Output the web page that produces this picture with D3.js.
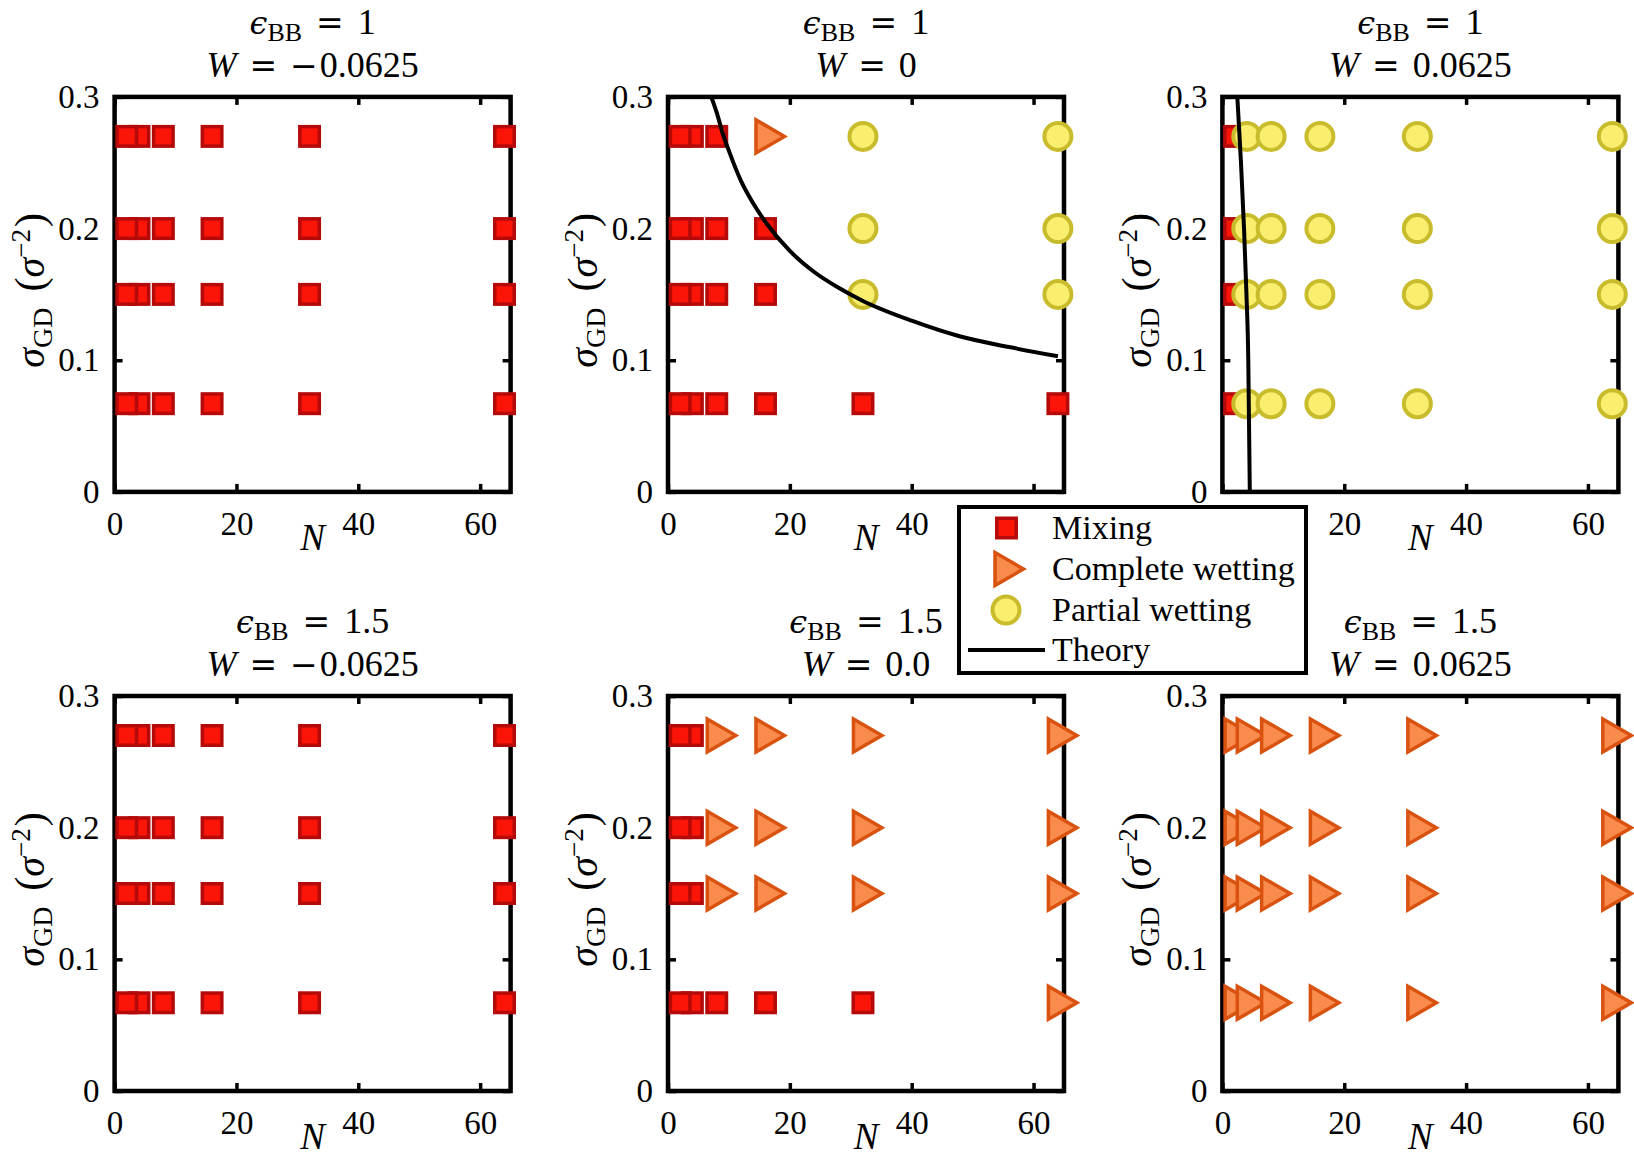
<!DOCTYPE html>
<html><head><meta charset="utf-8">
<script src="https://cdn.jsdelivr.net/npm/d3@7"></script>
<style>body{margin:0;background:#fff}</style>
</head><body>
<svg id="c" width="1634" height="1156"></svg>
<script>
// ---------- data ----------
const N_values = [2, 4, 8, 16, 32, 64];
const sigma_values = [0.27, 0.2, 0.15, 0.067];   // rows of the phase tables (top to bottom)
const x_ticks = [0, 20, 40, 60];
const y_ticks = [0, 0.1, 0.2, 0.3];
const y_tick_labels = ["0", "0.1", "0.2", "0.3"];
const eps_labels = ["1", "1", "1", "1.5", "1.5", "1.5"];
const W_labels = ["\u22120.0625", "0", "0.0625", "\u22120.0625", "0.0", "0.0625"];
const legend_labels = ["Mixing", "Complete wetting", "Partial wetting", "Theory"];
// phase tables: M = mixing, C = complete wetting, P = partial wetting
const phase_e1_Wneg = [
  ["M","M","M","M","M","M"],
  ["M","M","M","M","M","M"],
  ["M","M","M","M","M","M"],
  ["M","M","M","M","M","M"]];
const phase_e1_W0 = [
  ["M","M","M","C","P","P"],
  ["M","M","M","M","P","P"],
  ["M","M","M","M","P","P"],
  ["M","M","M","M","M","M"]];
const phase_e1_Wpos = [
  ["M","P","P","P","P","P"],
  ["M","P","P","P","P","P"],
  ["M","P","P","P","P","P"],
  ["M","P","P","P","P","P"]];
const phase_e15_Wneg = [
  ["M","M","M","M","M","M"],
  ["M","M","M","M","M","M"],
  ["M","M","M","M","M","M"],
  ["M","M","M","M","M","M"]];
const phase_e15_W0 = [
  ["M","M","C","C","C","C"],
  ["M","M","C","C","C","C"],
  ["M","M","C","C","C","C"],
  ["M","M","M","M","M","C"]];
const phase_e15_Wpos = [
  ["C","C","C","C","C","C"],
  ["C","C","C","C","C","C"],
  ["C","C","C","C","C","C"],
  ["C","C","C","C","C","C"]];
// theory curves
const theory_N_W0 = [7.1, 8, 9, 10, 12, 14, 16, 20, 24, 28, 32, 40, 48, 56, 64];
const theory_sigma_W0 = [0.300, 0.288, 0.272, 0.259, 0.236, 0.219, 0.205, 0.183, 0.167, 0.155, 0.145, 0.130, 0.118, 0.110, 0.103];
const theory_N_Wpos = [2.45, 3.05, 3.55, 3.95, 4.25, 4.5];
const theory_sigma_Wpos = [0.3, 0.25, 0.2, 0.15, 0.1, 0.0];

// ---------- layout / style ----------
const panelLeft = [114.6, 668, 1222.4];
const panelTop = [96.9, 696];
const pw = 396, ph = 395;
const SERIF = "'Liberation Serif', 'Times New Roman', serif";
const OPF = "'DejaVu Serif', serif";
const col = {
  sqFill: "#fb1408", sqStroke: "#b50a0a",
  triFill: "#f98b4d", triStroke: "#d9520f",
  cirFill: "#f9ee6e", cirStroke: "#c9bc2c"
};

const svg = d3.select("#c");
svg.append("rect").attr("width", 1634).attr("height", 1156).attr("fill", "#fff");

const x = d3.scaleLinear().domain([0, 65]).range([0, pw]);
const y = d3.scaleLinear().domain([0, 0.3]).range([ph, 0]);

const panels = [
  {phase: phase_e1_Wneg, tN: null, tS: null},
  {phase: phase_e1_W0, tN: theory_N_W0, tS: theory_sigma_W0},
  {phase: phase_e1_Wpos, tN: theory_N_Wpos, tS: theory_sigma_Wpos},
  {phase: phase_e15_Wneg, tN: null, tS: null},
  {phase: phase_e15_W0, tN: null, tS: null},
  {phase: phase_e15_Wpos, tN: null, tS: null}
];

const triPath = (a, h) => `M${-a},${-h}L${-a},${h}L${2*a},0Z`;

function drawSquare(sel, cx, cy) {
  sel.append("rect").attr("x", cx - 9.75).attr("y", cy - 9.75).attr("width", 19.5).attr("height", 19.5)
    .attr("fill", col.sqFill).attr("stroke", col.sqStroke).attr("stroke-width", 3.5);
}
function drawTri(sel, cx, cy) {
  sel.append("path").attr("d", triPath(9.5, 16.5)).attr("transform", `translate(${cx},${cy})`)
    .attr("fill", col.triFill).attr("stroke", col.triStroke).attr("stroke-width", 3.5)
    .attr("stroke-linejoin", "miter");
}
function drawCircle(sel, cx, cy) {
  sel.append("circle").attr("cx", cx).attr("cy", cy).attr("r", 13.5)
    .attr("fill", col.cirFill).attr("stroke", col.cirStroke).attr("stroke-width", 4);
}

panels.forEach((p, i) => {
  const c = i % 3, r = Math.floor(i / 3);
  const L = panelLeft[c], T = panelTop[r];
  const g = svg.append("g").attr("transform", `translate(${L},${T})`);

  // box
  g.append("rect").attr("width", pw).attr("height", ph).attr("fill", "none")
    .attr("stroke", "#000").attr("stroke-width", 4.5);

  // axes
  const styleAxis = (a) => {
    a.select(".domain").remove();
    a.selectAll(".tick line").attr("stroke", "#000").attr("stroke-width", 3.5);
    a.selectAll(".tick text").attr("font-family", SERIF).attr("font-size", 33).attr("fill", "#000");
  };
  const axB = g.append("g").attr("transform", `translate(0,${ph})`)
    .call(d3.axisBottom(x).tickValues(x_ticks).tickSize(-8).tickPadding(20).tickFormat(d3.format("d")));
  styleAxis(axB);
  const axT = g.append("g").call(d3.axisTop(x).tickValues(x_ticks).tickSize(-8).tickFormat(""));
  styleAxis(axT);
  const axL = g.append("g")
    .call(d3.axisLeft(y).tickValues(y_ticks).tickSize(-8).tickPadding(15).tickFormat((d, k) => y_tick_labels[k]));
  styleAxis(axL);
  const axR = g.append("g").attr("transform", `translate(${pw},0)`)
    .call(d3.axisRight(y).tickValues(y_ticks).tickSize(-8).tickFormat(""));
  styleAxis(axR);

  // points
  const pts = [];
  sigma_values.forEach((s, ri) => N_values.forEach((n, ci) => pts.push({N: n, s: s, ph: p.phase[ri][ci]})));
  const gm = g.append("g");
  pts.filter(d => d.ph === "M").sort((a, b) => b.N - a.N).forEach(d => drawSquare(gm, x(d.N), y(d.s)));
  pts.filter(d => d.ph === "C").sort((a, b) => a.N - b.N).forEach(d => drawTri(gm, x(d.N), y(d.s)));
  pts.filter(d => d.ph === "P").sort((a, b) => a.N - b.N).forEach(d => drawCircle(gm, x(d.N), y(d.s)));

  // theory
  if (p.tN) {
    const line = d3.line().x(d => x(d[0])).y(d => y(d[1])).curve(d3.curveMonotoneX);
    g.append("path").attr("d", line(p.tN.map((n, k) => [n, p.tS[k]])))
      .attr("fill", "none").attr("stroke", "#000").attr("stroke-width", 4);
  }

  // titles
  const cx = pw / 2;
  const t1 = g.append("text").attr("x", cx).attr("y", -63).attr("text-anchor", "middle")
    .attr("font-family", SERIF).attr("font-size", 36).attr("fill", "#000");
  t1.append("tspan").attr("font-family", OPF).attr("font-style", "italic").attr("font-size", 32).text("\u03F5");
  t1.append("tspan").attr("font-size", 26).attr("dy", 7).text("BB");
  t1.append("tspan").attr("font-family", OPF).attr("font-size", 33).attr("dy", -7).attr("dx", 14).text("=");
  t1.append("tspan").attr("dx", 14).text(eps_labels[i]);

  const t2 = g.append("text").attr("x", cx).attr("y", -20).attr("text-anchor", "middle")
    .attr("font-family", SERIF).attr("font-size", 36).attr("fill", "#000");
  t2.append("tspan").attr("font-style", "italic").text("W");
  t2.append("tspan").attr("font-family", OPF).attr("font-size", 33).attr("dx", 13).text("=");
  const wl = W_labels[i];
  if (wl[0] === "\u2212") {
    t2.append("tspan").attr("font-family", OPF).attr("font-size", 33).attr("dx", 13).text("\u2212");
    t2.append("tspan").attr("dx", 2).text(wl.slice(1));
  } else {
    t2.append("tspan").attr("dx", 13).text(wl);
  }

  // x label
  g.append("text").attr("x", cx).attr("y", ph + 58).attr("text-anchor", "middle")
    .attr("font-family", SERIF).attr("font-style", "italic").attr("font-size", 37).text("N");

  // y label
  const yl = g.append("text").attr("transform", `translate(${-71},${ph / 2 - 4}) rotate(-90)`)
    .attr("text-anchor", "middle").attr("font-family", SERIF).attr("font-size", 40).attr("fill", "#000");
  yl.append("tspan").attr("font-style", "italic").text("\u03C3");
  yl.append("tspan").attr("font-size", 28).attr("dy", 8).text("GD");
  yl.append("tspan").attr("font-size", 42).attr("dy", -8).attr("dx", 16).text("(");
  yl.append("tspan").attr("font-style", "italic").text("\u03C3");
  yl.append("tspan").attr("font-size", 27).attr("dy", -14).text("\u22122");
  yl.append("tspan").attr("font-size", 42).attr("dy", 14).attr("dx", 2).text(")");
});

// ---------- legend ----------
const lg = svg.append("g");
lg.append("rect").attr("x", 959).attr("y", 507).attr("width", 347).attr("height", 166)
  .attr("fill", "#fff").attr("stroke", "#000").attr("stroke-width", 4);
const ly = [528, 569, 610, 650];
drawSquare(lg, 1006.5, ly[0]);
drawTri(lg, 1004.5, ly[1]);
drawCircle(lg, 1006, ly[2]);
lg.append("line").attr("x1", 968).attr("x2", 1045).attr("y1", ly[3]).attr("y2", ly[3])
  .attr("stroke", "#000").attr("stroke-width", 4);
legend_labels.forEach((t, k) => {
  lg.append("text").attr("x", 1052).attr("y", ly[k] + 11).attr("font-family", SERIF)
    .attr("font-size", 34).attr("fill", "#000").text(t);
});
</script>
</body></html>
